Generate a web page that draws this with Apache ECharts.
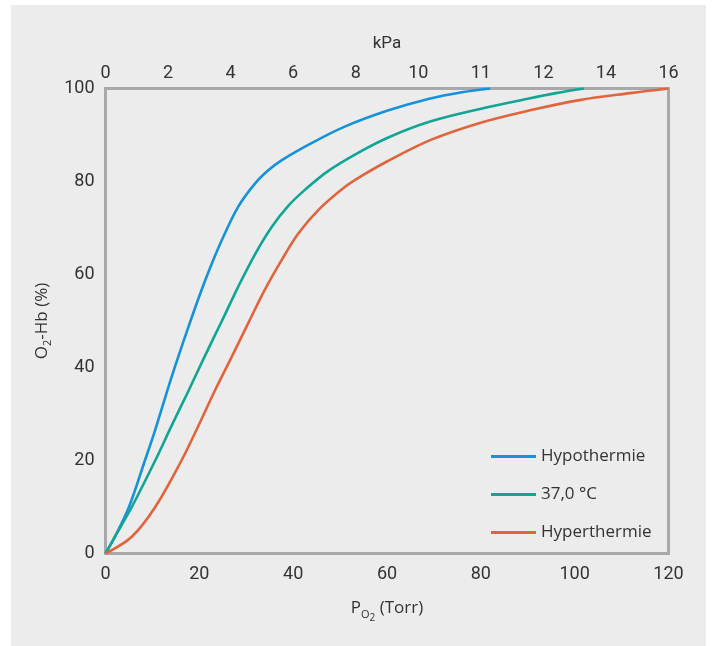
<!DOCTYPE html>
<html>
<head>
<meta charset="utf-8">
<script src="https://cdn.jsdelivr.net/npm/echarts@6/dist/echarts.min.js"></script>
<style>
html,body{margin:0;padding:0;background:#ffffff;}
#panel{position:absolute;left:11px;top:5px;width:695px;height:641px;background:#ebeceb;}
#chart{position:absolute;left:0;top:0;width:712px;height:646px;}
</style>
</head>
<body>
<div id="panel"></div>
<div id="chart"></div>
<script>
// Torr ticks on bottom axis, kPa labels on top axis (as printed)
const kPaLabels = ['0','2','4','6','8','10','11','12','14','16'];
const seriesNames = ['Hypothermie','37,0 °C','Hyperthermie'];
const seriesColors = ['#1592da','#10a594','#e2643c'];

// [P_O2 (Torr), O2-Hb (%)]
const hypothermie = [[0,0],[2,3.6],[5,10],[8.4,20],[10.6,26.6],[14.1,38],[17.7,48.8],[21.2,58.6],[24.8,67.4],[28.3,74.6],[31.9,79.6],[34.7,82.4],[37.6,84.6],[44,88.3],[51,91.8],[60,95.2],[69,97.8],[76,99.2],[82,100]];
const normotherm = [[0,0],[2,3.6],[5.6,10],[10.6,20],[14.1,27.5],[17.7,35],[21.2,42.5],[24.8,50],[28.3,57.4],[31.9,64.4],[35.5,70.3],[39,74.8],[42.5,78.2],[47.5,82.3],[54.6,86.6],[61,89.8],[69.2,92.9],[79.8,95.6],[90.5,97.9],[96,99],[102,100]];
const hyperthermie = [[0,0],[5.6,3.6],[10.6,10],[16.2,20],[19.4,26.6],[23.3,35],[26.9,42.3],[30.4,49.5],[34,56.8],[37.6,63.2],[41.1,68.8],[45.4,73.9],[51,78.8],[54.6,81.2],[60,84.3],[69.2,88.9],[79.8,92.6],[90.5,95.3],[101,97.5],[111.8,99],[120,100]];

const chart = echarts.init(document.getElementById('chart'));
const txt = '#333333';
const font = '"Roboto","Open Sans",sans-serif';
const lfont = '"Open Sans",sans-serif';
const datasets = [hypothermie, normotherm, hyperthermie];

chart.setOption({
  backgroundColor: 'transparent',
  animation: false,
  grid: {
    left: 105.5, right: 43.5, top: 88.5, bottom: 92.5,
    show: true, borderWidth: 3, borderColor: '#a8a9aa', backgroundColor: 'transparent'
  },
  legend: {
    orient: 'vertical',
    left: 486, top: 441.5,
    icon: 'rect',
    itemWidth: 45, itemHeight: 3,
    itemGap: 18,
    textStyle: { color: txt, fontSize: 17, fontFamily: lfont, lineHeight: 20 },
    data: seriesNames
  },
  xAxis: [
    {
      type: 'value', min: 0, max: 120, interval: 20, position: 'bottom',
      axisLine: { show: false }, axisTick: { show: false }, splitLine: { show: false },
      axisLabel: { color: txt, fontSize: 18, fontFamily: font, margin: 12 },
      name: '{a|P}{b|O}{c|2}{a| (Torr)}',
      nameLocation: 'middle', nameGap: 40,
      nameTextStyle: {
        rich: {
          a: { color: txt, fontSize: 17, fontFamily: lfont },
          b: { color: txt, fontSize: 11, fontFamily: lfont, padding: [12,0,0,0] },
          c: { color: txt, fontSize: 10, fontFamily: lfont, padding: [20,0,0,0] }
        }
      }
    },
    {
      type: 'category', data: kPaLabels, boundaryGap: false, position: 'top',
      axisLine: { show: false }, axisTick: { show: false }, splitLine: { show: false },
      axisLabel: { color: txt, fontSize: 18, fontFamily: font, margin: 6, interval: 0 },
      name: 'kPa', nameLocation: 'middle', nameGap: 36,
      nameTextStyle: { color: txt, fontSize: 17, fontFamily: font }
    }
  ],
  yAxis: {
    type: 'value', min: 0, max: 100, interval: 20,
    axisLine: { show: false }, axisTick: { show: false }, splitLine: { show: false },
    axisLabel: { color: txt, fontSize: 18, fontFamily: font, margin: 11 },
    name: '{a|O}{b|2}{a|-Hb (%)}',
    nameLocation: 'middle', nameGap: 48, nameRotate: 90,
    nameTextStyle: {
      rich: {
        a: { color: txt, fontSize: 17, fontFamily: lfont },
        b: { color: txt, fontSize: 11, fontFamily: lfont, padding: [12,0,0,0] }
      }
    }
  },
  series: datasets.map((d, i) => ({
    name: seriesNames[i],
    type: 'line',
    xAxisIndex: 0,
    data: d,
    smooth: 0.35,
    showSymbol: false,
    symbol: 'none',
    clip: true,
    lineStyle: { color: seriesColors[i], width: 2.6 },
    itemStyle: { color: seriesColors[i] }
  }))
});
</script>
</body>
</html>
